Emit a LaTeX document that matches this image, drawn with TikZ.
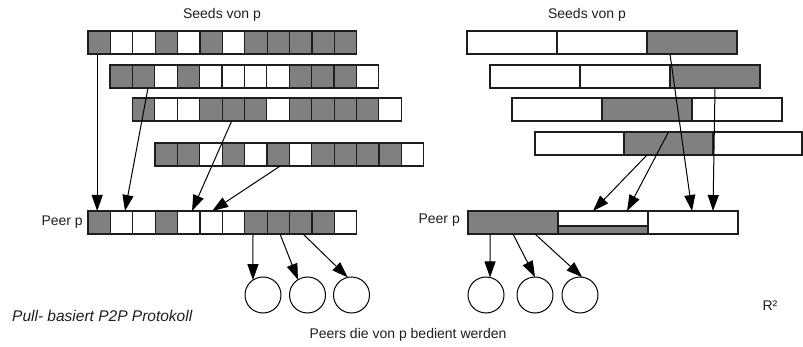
\documentclass[tikz,border=0pt]{standalone}
\usepackage{fontspec}
\setmainfont{Liberation Sans}
\usetikzlibrary{arrows.meta}
\definecolor{cgray}{RGB}{128,128,128}
\definecolor{ink}{RGB}{30,30,30}
\colorlet{G}{cgray}
\colorlet{W}{white}
\begin{document}
\begin{tikzpicture}[x=1pt,y=-1pt,
  font=\fontsize{14}{16}\selectfont,
  cell/.style={draw=ink, line width=1.1pt, minimum height=23pt, inner sep=0pt, outer sep=0pt, anchor=north west},
  conn/.style={-{Triangle[length=16pt,width=11pt]}, line width=1pt, black},
  peercirc/.style={circle, draw=black, line width=1pt, minimum size=36pt, inner sep=0pt, outer sep=0pt},
  lbl/.style={inner sep=0pt, text=ink}]
\useasboundingbox (0,0) rectangle (803,347);

% ---------- left side rows ----------
\foreach \row/\x/\y/\pat in {
  L1/88/31/{G,W,W,G,W,G,W,G,G,G,G,G},
  L2/110/65/{G,G,W,G,W,W,W,W,G,G,G,W},
  L3/132.5/98/{G,W,W,G,G,G,W,G,G,G,G,W},
  L4/155/143/{G,G,W,G,W,G,W,G,G,G,G,W},
  P/88/211/{G,W,W,G,W,W,W,G,G,G,G,W}}{
  \foreach \c [count=\i] in \pat {
    \node[cell, fill=\c, minimum width=22.4pt] (\row-\i) at ({\x+(\i-1)*22.4},\y) {};
  }
}

% ---------- right side rows ----------
\foreach \row/\x/\y/\w/\pat in {
  RA/467/31/90/{W,W,G},
  RB/490/65/90/{W,W,G},
  RC/512/98/90/{W,G,W},
  RD/535/132/89/{W,G,W},
  RP/468/211/90/{G,W,W}}{
  \foreach \c [count=\i] in \pat {
    \node[cell, fill=\c, minimum width=\w pt] (\row-\i) at ({\x+(\i-1)*\w},\y) {};
  }
}
% gray strip in the middle part of the right peer
\draw[fill=cgray, draw=ink, line width=1.1pt] (RP-2.south west) rectangle ([yshift=8pt]RP-2.south east);

% ---------- circles ----------
\node[peercirc] (c1) at (263,295) {};
\node[peercirc] (c2) at (307.5,295) {};
\node[peercirc] (c3) at (351.5,295) {};
\node[peercirc] (rc1) at (486,295) {};
\node[peercirc] (rc2) at (535,295) {};
\node[peercirc] (rc3) at (580,295) {};

% ---------- texts ----------
\node[lbl] (seedsL) at (222,15) {Seeds von p};
\node[lbl] (seedsR) at (587,15) {Seeds von p};
\node[lbl, anchor=east] (peerL) at (83,222) {Peer p};
\node[lbl, anchor=east] (peerR) at (460,220) {Peer p};
\node[lbl, anchor=west, font=\fontsize{15.5}{18}\selectfont\itshape] (title) at (12,316) {Pull- basiert P2P Protokoll};
\node[lbl] (served) at (408,335) {Peers die von p bedient werden};
\node[lbl] (r2) at (770,306) {R²};

% ---------- left connectors ----------
\draw[conn] ([xshift=-2pt]L1-1.south) -- ([xshift=-2pt]P-1.north);
\draw[conn] ([xshift=4.4pt]L2-2.south) -- ([xshift=3.4pt]P-2.north);
\draw[conn] ([xshift=-1.6pt]L3-5.south) -- ([xshift=3.2pt]P-5.north);
\draw[conn] ([xshift=2pt]L4-6.south) -- ([xshift=1pt]P-6.north);
\draw[conn] ([xshift=-3pt]P-8.south) -- (c1.124);
\draw[conn] ([xshift=1.6pt]P-9.south) -- (c2.122);
\draw[conn] ([xshift=2.2pt]P-10.south) -- (c3.102);

% ---------- right connectors ----------
\draw[conn] ([xshift=-22pt]RA-3.south) -- ([xshift=-1pt]RP-3.north);
\draw[conn] (RB-3.south) -- ([xshift=20pt]RP-3.north);
\draw[conn] ([xshift=-21.5pt]RD-2.south) -- ([xshift=-10pt]RP-2.north);
\draw[conn] (RD-2.north) -- ([xshift=24pt]RP-2.north);
\draw[conn] ([xshift=-23pt]RP-1.south) -- (rc1.77);
\draw[conn] (RP-1.south) -- (rc2.90);
\draw[conn] ([xshift=22pt]RP-1.south) -- (rc3.83);
\end{tikzpicture}
\end{document}
